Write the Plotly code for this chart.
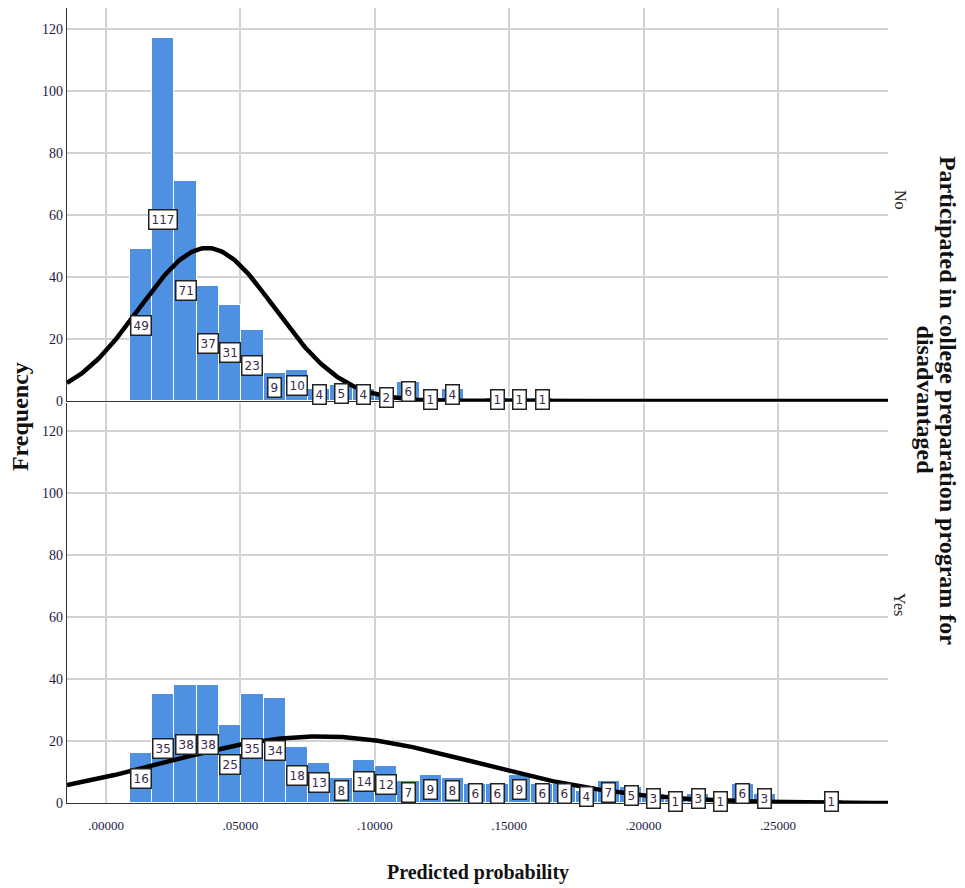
import numpy as np
import plotly.graph_objects as go
from plotly.subplots import make_subplots

# ---- data ----
bin_first_center = 0.01302
bin_width = 0.00829
counts_no = [49, 117, 71, 37, 31, 23, 9, 10, 4, 5, 4, 2, 6, 1, 4, 0, 1, 1, 1]
counts_yes = [16, 35, 38, 38, 25, 35, 34, 18, 13, 8, 14, 12, 7, 9, 8, 6, 6, 9,
              6, 6, 4, 7, 5, 3, 1, 3, 1, 6, 3, 0, 0, 1]
# fitted normal curve parameters (mean, std, N)
norm_no = dict(mean=0.0376, sd=0.0252, n=sum(counts_no))
norm_yes = dict(mean=0.0796, sd=0.058, n=sum(counts_yes))
x_tickvals = [0.0, 0.05, 0.10, 0.15, 0.20, 0.25]
x_ticktext = [".00000", ".05000", ".10000", ".15000", ".20000", ".25000"]
y_tickvals = [0, 20, 40, 60, 80, 100, 120]
panel_labels = ["No", "Yes"]

x_range = [-0.01451, 0.29092]
BAR = "#4e90e2"
SERIF = "Liberation Serif, Times New Roman, serif"

fig = make_subplots(rows=2, cols=1, shared_xaxes=True, vertical_spacing=0.003)

def centers(n):
    return bin_first_center + bin_width * np.arange(n)

def normal_curve(p):
    xs = np.linspace(x_range[0], x_range[1], 400)
    ys = p["n"] * bin_width / (p["sd"] * np.sqrt(2 * np.pi)) * np.exp(-0.5 * ((xs - p["mean"]) / p["sd"]) ** 2)
    return xs, ys

annotations = []
for row, counts, p in [(1, counts_no, norm_no), (2, counts_yes, norm_yes)]:
    cx = centers(len(counts))
    fig.add_trace(go.Bar(x=cx, y=counts, width=bin_width, marker=dict(color=BAR, line=dict(color="white", width=1)),
                         showlegend=False, hoverinfo="x+y"), row=row, col=1)
    xs, ys = normal_curve(p)
    fig.add_trace(go.Scatter(x=xs, y=ys, mode="lines", line=dict(color="black", width=4.5),
                             showlegend=False, hoverinfo="skip"), row=row, col=1)
    yref = "y" if row == 1 else "y2"
    for xc, c in zip(cx, counts):
        if c == 0:
            continue
        annotations.append(dict(x=xc, y=c / 2, xref="x" if row == 1 else "x2", yref=yref, text=str(c),
                                showarrow=False, bgcolor="white", bordercolor="#222", borderwidth=1.5,
                                borderpad=2, font=dict(size=12, color="#3a2a4a", family="DejaVu Sans")))

fig.update_layout(bargap=0)

axis_common = dict(showgrid=True, gridcolor="#d2d2d2", gridwidth=1.5, zeroline=False,
                   showline=True, linecolor="#333", linewidth=1.2, ticks="")
fig.update_xaxes(range=x_range, tickvals=x_tickvals, ticktext=x_ticktext, ticklabelstandoff=10,
                 tickfont=dict(family=SERIF, size=13, color="#1a1a40"), **axis_common)
fig.update_xaxes(showticklabels=False, row=1, col=1)
fig.update_yaxes(tickvals=y_tickvals, tickfont=dict(family=SERIF, size=14, color="#1a1a40"), **axis_common)
fig.update_yaxes(range=[0, 126.8], row=1, col=1)
fig.update_yaxes(range=[0, 129], row=2, col=1)

fig.update_layout(
    xaxis=dict(domain=[0, 1]),
    yaxis=dict(domain=[0.5057, 1.0]),
    yaxis2=dict(domain=[0.0, 0.5031]),
)

common = dict(xref="paper", yref="paper", showarrow=False, xanchor="center", yanchor="middle")
annotations += [
    dict(text="No", x=1.0146, y=0.7585, textangle=90, font=dict(family=SERIF, size=16, color="#222"), **common),
    dict(text="Yes", x=1.0146, y=0.249, textangle=90, font=dict(family=SERIF, size=16, color="#222"), **common),
    dict(text="<b>Participated in college preparation program for</b>", x=1.0731, y=0.507, textangle=90,
         font=dict(family=SERIF, size=24, color="#111"), **common),
    dict(text="<b>disadvantaged</b>", x=1.0455, y=0.507, textangle=90,
         font=dict(family=SERIF, size=24, color="#111"), **common),
    dict(text="<b>Frequency</b>", x=-0.0572, y=0.4855, textangle=-90,
         font=dict(family=SERIF, size=24, color="#111"), **common),
    dict(text="<b>Predicted probability</b>", x=0.5, y=-0.0868,
         font=dict(family=SERIF, size=20, color="#111"), **common),
]

fig.update_layout(
    width=965, height=888,
    margin=dict(l=59, r=85, t=0, b=93),
    paper_bgcolor="white", plot_bgcolor="white",
    annotations=annotations,
)

fig.write_html("out.html")
